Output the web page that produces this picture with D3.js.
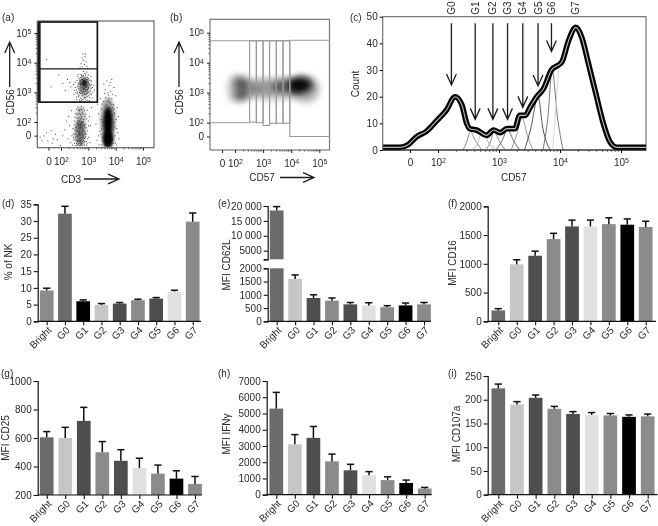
<!DOCTYPE html>
<html><head><meta charset="utf-8">
<script src="https://cdn.jsdelivr.net/npm/d3@7"></script>
<style>
html,body{margin:0;padding:0;background:#fff}
svg{display:block}
text{font-family:"Liberation Sans",Arial,sans-serif;font-size:10px;fill:#2a2a2a}
</style></head><body>
<script>
// ---------- bar data
const cats=["Bright","G0","G1","G2","G3","G4","G5","G6","G7"];
const nkShare=[9.2,32.2,6.0,4.9,5.3,6.3,6.8,8.9,29.8];
const nkShareTop=[9.9,34.4,6.4,5.3,5.6,6.6,7.1,9.3,32.4];
const cd62l=[18500,1600,880,780,640,600,530,600,640];
const cd62lTop=[19800,1750,1000,880,710,700,590,690,710];
const cd16=[190,990,1140,1430,1650,1650,1690,1680,1640];
const cd16Top=[220,1070,1220,1530,1760,1760,1800,1780,1740];
const cd25=[605,600,720,500,440,390,350,315,278];
const cd25Top=[645,675,815,575,518,458,410,370,330];
const ifng=[5300,3100,3500,2050,1500,1200,900,720,380];
const ifngTop=[6300,3700,4200,2500,1870,1420,1100,900,450];
const cd107a=[224,190,204,181,170,168,167,164,165];
const cd107aTop=[233,196,210,186,175,173,171,168,170];
const shadesD=["#8b8b8b","#6b6b6b","#000000","#c6c6c6","#4e4e4e","#8b8b8b","#4e4e4e","#e0e0e0","#8b8b8b"];
const shades=["#6b6b6b","#c6c6c6","#4e4e4e","#8b8b8b","#4e4e4e","#e0e0e0","#8b8b8b","#000000","#8b8b8b"];

// ---------- flow data, in display decades (2 = 10^2). Hand-estimated from the picture.
const decadeTicks=[1.54,2,3,4,5];
const decadeLabels=["0","2","3","4","5"];
const cloudA=[[2.84,3.28],[2.9,3.35],[2.78,3.2],[2.95,3.1],[2.7,3.4],[2.86,3.5],[2.6,3.22],[3.02,3.3],[2.8,3.05],[2.92,3.45],
[2.74,3.12],[2.88,3.18],[2.66,3.33],[2.97,3.23],[2.82,3.42],[2.76,3.55],[3.08,3.15],[2.55,3.1],[2.9,2.95],[2.7,2.98],
[2.85,2.85],[2.62,2.88],[3.0,2.9],[2.78,2.78],[2.94,2.75],[2.68,2.72],[3.1,3.4],[2.5,3.35],[2.98,3.6],[2.72,3.62],
[2.86,3.65],[3.15,3.02],[2.46,2.95],[3.12,2.82],[2.56,2.78],[2.83,2.7],[2.81,3.32],[2.87,3.24],[2.79,3.36],[2.91,3.27],
[2.84,3.14],[2.93,3.38],[2.75,3.28],[2.69,3.17],[3.0,3.18],[3.04,3.42],[2.64,3.48],[2.58,3.56],[2.77,3.46],[2.89,3.06],
[2.96,3.02],[2.73,3.05],[2.66,3.01],[2.6,2.96],[3.06,3.06],[2.83,2.96],[2.9,2.84],[2.76,2.9],[2.68,2.83],[2.95,3.52],
[3.07,3.55],[2.8,3.72],[2.92,3.7],[2.52,3.18],[3.18,3.25],[2.44,3.28],[2.85,3.38],[2.8,3.29],[2.88,3.33],[2.83,3.22],
[2.76,3.35],[2.93,3.19],[2.71,3.24],[2.99,3.36],[3.2,3.1],[2.65,2.76],[3.02,2.74],[2.86,3.1],[2.79,3.16],[2.72,3.32],
[2.84,3.4],[2.9,3.12],[2.97,3.28],[2.67,3.4],[2.62,3.3],[2.74,3.45],[3.05,3.24],[3.1,2.95],[2.58,3.02],[2.48,3.08],
[2.8,3.58],[2.88,3.6],[2.7,3.52],[2.94,2.88],[3.03,2.84],[2.72,2.8],[2.82,2.82],[2.55,2.86],[3.0,3.48],[2.82,3.25],
[2.63,3.15],[2.68,3.08],[2.77,3.0],[2.98,3.14],[3.09,3.28],[2.57,3.42],[2.93,2.98],[2.64,2.92],[2.7,3.3],[2.9,3.22],
[3.0,3.02],[2.74,2.74],[2.87,2.78],[3.13,3.18],[2.53,3.0],[2.61,3.62],[2.81,3.12],[2.96,3.44],[2.73,3.58],[3.05,2.96],
[2.75,4.18],[2.86,4.22],[2.8,4.1],[2.9,4.05],[2.72,3.98],[2.84,3.96],[2.93,3.9],[2.76,3.88],[2.88,4.3],[2.79,4.32],[2.68,3.84],[2.96,3.82]];
const cloudB=[[2.7,1.75],[2.62,1.6],[2.78,1.9],[2.55,1.85],[2.85,1.68],[2.66,2.05],[2.74,1.5],[2.6,1.35],[2.8,1.4],[2.5,1.62],
[2.9,1.95],[2.72,2.2],[2.58,2.15],[2.82,2.1],[2.64,2.3],[2.76,2.35],[2.88,2.28],[2.52,2.3],[2.68,2.45],[2.8,2.5],
[2.94,2.42],[2.46,2.05],[2.42,1.8],[2.38,1.55],[2.96,1.72],[3.0,1.5],[2.92,1.35],[2.7,1.25],[2.56,1.22],[2.84,1.25],
[2.74,1.68],[2.66,1.72],[2.71,1.58],[2.63,1.8],[2.78,1.62],[2.69,1.92],[2.6,1.95],[2.75,2.0],[2.83,1.82],[2.57,1.72],
[2.52,1.48],[2.65,1.45],[2.76,1.35],[2.88,1.52],[2.7,1.4],[2.62,1.28],[2.48,1.3],[2.78,1.22],[2.92,1.22],[2.34,1.32],
[2.3,1.9],[2.26,2.2],[2.36,2.4],[3.02,2.2],[3.06,1.9],[3.1,2.5],[2.24,1.45],[2.72,1.82],[2.67,1.66],[2.8,1.74],
[2.73,1.97],[2.59,2.05],[2.64,2.16],[2.7,2.27],[2.55,2.45],[2.86,2.2],[2.8,2.02],[2.6,1.52],[2.84,1.46],[2.47,1.92],
[2.58,1.38],[2.68,1.3],[2.74,1.44],[2.66,1.56],[2.5,1.75],[2.43,1.6],[2.96,1.45],[2.9,1.62],[2.98,2.05],[2.75,2.15],
[2.66,2.4],[2.6,2.52],[2.72,2.55],[2.84,2.42],[2.92,2.12],[2.54,1.98],[2.69,1.48],[2.77,1.55],[2.63,1.68],[2.71,1.35],
[2.82,1.32],[2.55,1.3],[2.46,1.42],[2.4,1.24],[2.86,1.88],[2.64,1.22],[2.76,1.78],[2.68,1.84],[2.61,1.4],[2.8,1.58],
[2.56,1.55],[2.73,1.3],[2.65,1.62],[2.87,1.6],[2.6,1.72],[2.7,1.62],[2.77,1.7],[2.84,1.92],[2.52,1.82],[2.62,1.9],
[2.69,2.12],[2.79,2.28],[2.57,2.28],[2.63,2.42],[2.74,2.44],[2.49,2.18],[2.91,1.82],[2.99,1.88],[2.94,1.28],[3.04,1.32],
[2.68,1.22],[2.5,1.22],[2.44,1.5],[2.53,1.4],[2.81,1.5],[2.67,1.38],[2.73,1.24],[2.86,1.36],[2.59,1.26],[2.76,1.28]];
const cloudC=[[3.72,1.85],[3.65,2.1],[3.8,1.6],[3.7,2.3],[3.78,2.05],[3.6,1.75],[3.85,1.9],[3.68,1.45],[3.75,1.3],[3.62,1.25],
[3.82,1.22],[3.74,2.5],[3.66,2.6],[3.8,2.45],[3.58,2.35],[3.88,2.25],[3.7,2.72],[3.76,2.68],[3.6,2.55],[3.92,2.0],
[3.95,1.55],[3.52,1.9],[3.5,1.5],[3.98,1.3],[3.48,1.25],[3.9,2.6],[3.54,2.7],[4.02,1.8],[3.44,2.1],[3.46,2.45],
[3.84,2.8],[3.62,2.85],[3.72,2.92],[3.8,3.05],[3.6,3.1],[3.92,3.18],[3.74,3.25],[3.66,3.4],[3.98,2.9],[4.04,2.5],
[3.4,1.7],[3.36,2.3],[3.3,1.4],[3.26,1.95],[4.08,2.2],[4.1,1.45],[3.74,1.75],[3.69,1.65],[3.77,1.95],[3.64,1.9],
[3.83,1.72],[3.71,1.55],[3.6,1.42],[3.86,1.42],[3.66,2.25],[3.79,2.2],[3.72,2.4],[3.84,2.38],[3.56,2.15],[3.62,2.45],
[3.68,2.52],[3.9,1.76],[3.94,2.32],[3.5,2.02],[3.56,1.6],[3.44,1.6],[3.36,1.55],[3.32,2.62],[4.0,2.1],[4.06,1.65],
[3.73,1.22],[3.67,1.3],[3.79,1.35],[3.88,1.3],[3.55,1.35],[3.7,1.95],[3.76,1.5],[3.63,2.0],[3.81,2.62],[3.75,2.82],
[3.7,3.0],[3.87,2.95],[3.58,2.98],[3.78,3.35],[3.55,3.3],[3.84,3.45],[3.42,2.8],[3.38,1.25],[4.02,1.24],[3.94,1.85],
[3.72,1.7],[3.7,1.4],[3.82,2.12],[3.58,1.22],[3.76,2.18],[3.66,1.58],[3.86,2.5],[3.48,2.62],[3.46,1.78],[3.92,2.45]];
const cloudSparse=[[1.28,1.4],[1.35,1.55],[1.22,1.5],[1.45,1.65],[1.5,1.38],[1.62,1.72],[1.7,1.45],[1.78,1.6],[1.66,1.3],[1.85,1.42],
[1.96,1.22],[2.05,1.55],[2.12,1.75],[2.18,2.05],[1.9,3.6],[2.05,3.32],[1.45,4.12],[1.62,3.2],[2.3,3.35],[2.15,3.08],[2.22,3.45],[2.34,3.2]];
// dense cores of the dot clouds and the density lobes of panel (b): centre x, centre y, radius x, radius y, strength
const coresA=[[2.85,3.32,.09,.11,.9],[2.84,3.2,.2,.34,.42],[3.72,2.0,.17,.5,1],[3.72,1.42,.2,.3,1],[3.72,2.05,.28,.78,.38],[2.7,1.65,.2,.42,.48],[2.72,2.15,.18,.38,.25]];
const lobesB=[[4.33,3.26,.42,.26,1],[3.85,3.2,.5,.27,.58],[3.1,3.16,.5,.3,.3],[2.25,3.3,.27,.24,.6],[2.25,2.92,.26,.2,.6],[2.02,3.14,.28,.46,.28],[2.6,3.14,.26,.32,.26],[4.5,3.12,.5,.44,.34],[3.4,3.12,1.1,.38,.16]];
// gates
const gateA=[1.2,3.33,5.37,3.79,2.67];
const gateEdges=[2.52,2.76,3.0,3.23,3.47,3.71,3.95];
const gateBottoms=[2.02,2.0,1.91,1.98,1.98,1.98];
// histogram of panel (c): decade position, count
const envelope=[[1.1,1],[1.38,1],[1.51,2],[1.65,5],[1.81,7],[1.98,11],[2.14,15],[2.28,20],[2.39,17],[2.47,10],[2.52,8],[2.63,7.5],[2.8,5.5],[2.91,7.5],[3.02,6.5],[3.13,8],[3.26,8],[3.34,13],[3.43,13],[3.51,16],[3.62,20],[3.73,23],[3.86,30],[4.03,33],[4.14,41],[4.26,46],[4.36,42],[4.46,33],[4.6,20],[4.71,10],[4.82,3],[4.93,1],[5.41,1]];
const gateCurves=[
 {c:"#8a8a8a",p:[[2.41,0],[2.47,3],[2.53,7],[2.6,4],[2.72,0]]},
 {c:"#b4b4b4",p:[[2.55,0],[2.64,2],[2.72,6.5],[2.85,2],[2.95,0]]},
 {c:"#8a8a8a",p:[[2.78,0],[2.86,3],[2.92,7],[3,3.5],[3.1,0]]},
 {c:"#666666",p:[[2.95,0],[3.04,3],[3.14,7.5],[3.25,3],[3.34,0]]},
 {c:"#999999",p:[[3.2,0],[3.28,5],[3.38,12],[3.47,5],[3.56,0]]},
 {c:"#555555",p:[[3.42,0],[3.52,8],[3.64,20],[3.72,8],[3.84,0]]},
 {c:"#777777",p:[[3.72,0],[3.8,12],[3.87,30],[3.96,12],[4.05,0]]},
 {c:"#d8d8d8",p:[[3.88,0],[3.92,12],[3.98,31]]}];
const gateNames=["G0","G1","G2","G3","G4","G5","G6","G7"];
const gatePos=[2.22,2.61,2.9,3.14,3.39,3.64,3.86,4.26];
const arrowTips=[24.4,11.5,11.5,11.5,16,24,37,null];
const countTicks=[0,10,20,30,40,50];

const svg=d3.select("body").append("svg").attr("width",658).attr("height",526);
const defs=svg.append("defs");
[["b3",1.8],["b2",3.2]].forEach(([id,s])=>defs.append("filter").attr("id",id).attr("x","-100%").attr("y","-100%").attr("width","300%").attr("height","300%").append("feGaussianBlur").attr("stdDeviation",s));
defs.append("clipPath").attr("id","frameA").append("rect").attr("x",37.3).attr("y",21).attr("width",116.7).attr("height",126.7);

function label(t,x,y,rot,anchor){
  return svg.append("text").attr("text-anchor",anchor||"middle").attr("transform",`translate(${x},${y})`+(rot?` rotate(${rot})`:"")).attr("dy","0.35em").text(t);
}
function arrow(x0,y0,x1,y1,w){
  const a=Math.atan2(y1-y0,x1-x0),L=12,H=.42;
  return svg.append("path").attr("fill","none").attr("stroke","#1c1c1c").attr("stroke-width",1.3)
   .attr("d",`M${x0},${y0}L${x1},${y1}M${x1-L*Math.cos(a-H)},${y1-L*Math.sin(a-H)}L${x1},${y1}L${x1-L*Math.cos(a+H)},${y1-L*Math.sin(a+H)}`);
}
function decadeFormat(sel){
  sel.selectAll("text").each(function(){
    const t=d3.select(this),s=t.text();
    if(s==="0")return;
    t.text("10");
    t.append("tspan").attr("dy","-0.4em").style("font-size","7px").text(s);
  });
}
const decLabel=d=>decadeLabels[decadeTicks.indexOf(d)];
function minorTicks(lo,hi){const r=[];for(let d=lo;d<hi;d++)for(let k=2;k<10;k++)r.push(d+Math.log10(k));return r.filter(v=>v<hi);}

function flowFrame(F){
  svg.append("rect").attr("x",F.l).attr("y",F.t).attr("width",F.r-F.l).attr("height",F.b-F.t).attr("fill","none").attr("stroke",F.frame).attr("stroke-width",1.2);
  const gx=svg.append("g").attr("transform",`translate(0,${F.b})`).call(d3.axisBottom(F.x).tickValues(decadeTicks).tickFormat(decLabel).tickSize(3).tickPadding(7));
  gx.select(".domain").remove(); gx.selectAll("line").attr("stroke","#222");
  decadeFormat(gx);
  const gy=svg.append("g").attr("transform",`translate(${F.l},0)`).call(d3.axisLeft(F.y).tickValues(decadeTicks).tickFormat(decLabel).tickSize(3).tickPadding(3));
  gy.select(".domain").remove(); gy.selectAll("line").attr("stroke","#222");
  decadeFormat(gy);
  svg.append("g").selectAll("line").data(minorTicks(2,5)).join("line").attr("x1",F.x).attr("x2",F.x).attr("y1",F.b).attr("y2",F.b+1.6).attr("stroke","#333").attr("stroke-width",.7);
  svg.append("g").selectAll("line").data(minorTicks(2,5)).join("line").attr("y1",F.y).attr("y2",F.y).attr("x1",F.l).attr("x2",F.l-1.6).attr("stroke","#333").attr("stroke-width",.7);
}

// ---- panel (a)
const ax=d3.scaleLinear().domain([2,5]).range([61,143]);
const ay=d3.scaleLinear().domain([2,5]).range([122,33]);
const A={l:37.3,r:154,t:21,b:147.7,x:ax,y:ay,frame:"#666"};
svg.append("g").attr("clip-path","url(#frameA)").selectAll("ellipse").data(coresA).join("ellipse")
 .attr("cx",d=>ax(d[0])).attr("cy",d=>ay(d[1]))
 .attr("rx",d=>ax(d[0]+d[2])-ax(d[0])).attr("ry",d=>ay(d[1])-ay(d[1]+d[3]))
 .attr("fill","#000").attr("opacity",d=>d[4]).attr("filter","url(#b3)");
svg.append("g").selectAll("rect").data([...cloudA,...cloudB,...cloudC,...cloudSparse]).join("rect")
 .attr("x",d=>ax(d[0])).attr("y",d=>ay(d[1])).attr("width",1).attr("height",1).attr("fill","#111").attr("opacity",.8);
flowFrame(A);
svg.append("rect").attr("x",ax(gateA[0])).attr("y",ay(gateA[2])).attr("width",ax(gateA[1])-ax(gateA[0])).attr("height",ay(gateA[4])-ay(gateA[2])).attr("fill","none").attr("stroke","#1a1a1a").attr("stroke-width",1.7);
svg.append("line").attr("x1",ax(gateA[0])).attr("x2",ax(gateA[1])).attr("y1",ay(gateA[3])).attr("y2",ay(gateA[3])).attr("stroke","#1a1a1a").attr("stroke-width",1.4);
svg.append("line").attr("x1",ax(gateA[0])).attr("x2",ax(gateA[0])).attr("y1",ay(gateA[2])).attr("y2",ay(gateA[4])).attr("stroke","#1a1a1a").attr("stroke-width",3);
label("(a)",2,17,0,"start");
label("CD56",10,102,-90);
arrow(9.7,87,9.7,42);
label("CD3",71,179);
arrow(84,179,119,179);

// ---- panel (b)
const bx=d3.scaleLinear().domain([2,5]).range([235,319.3]);
const by=d3.scaleLinear().domain([2,5]).range([122.7,32.7]);
const B={l:210,r:329.5,t:19.3,b:150,x:bx,y:by,frame:"#777"};
svg.append("g").style("isolation","isolate").selectAll("ellipse").data(lobesB).join("ellipse")
 .attr("cx",d=>bx(d[0])).attr("cy",d=>by(d[1]))
 .attr("rx",d=>bx(d[0]+d[2])-bx(d[0])).attr("ry",d=>by(d[1])-by(d[1]+d[3]))
 .attr("fill","#111").attr("opacity",d=>d[4]).attr("filter","url(#b2)").style("mix-blend-mode","multiply");
flowFrame(B);
const gateTopB=4.73, leftBase=2.0;
const gb=svg.append("g").attr("fill","none").attr("stroke","#9a9a9a").attr("stroke-width",1.1);
gb.append("path").attr("d",`M${B.l},${by(gateTopB)}H${bx(gateEdges[6])}M${B.l},${by(leftBase)}H${bx(gateEdges[0])}`);
gateEdges.slice(0,-1).forEach((e,i)=>{
  gb.append("rect").attr("x",bx(e)).attr("y",by(gateTopB)).attr("width",bx(gateEdges[i+1])-bx(e)).attr("height",by(gateBottoms[i])-by(gateTopB));
});
gb.append("path").attr("d",`M${bx(gateEdges[6])},${by(gateTopB+.02)}H${B.r}M${bx(gateEdges[6])},${by(gateTopB+.02)}V${by(1.54)}H${B.r}`);
label("(b)",170,17,0,"start");
label("CD56",179,102,-90);
arrow(179,87,179,42);
label("CD57",262,177.5);
arrow(280,177.5,314,177.5);

// ---- panel (c)
const cx=d3.scaleLinear().domain([2,5]).range([438,621]);
const cy=d3.scaleLinear().domain([0,50]).range([150,16.7]);
svg.append("rect").attr("x",382.7).attr("y",16.7).attr("width",263.3).attr("height",133.3).attr("fill","none").attr("stroke","#666").attr("stroke-width",1.1);
const area=d3.line().x(d=>cx(d[0])).y(d=>cy(d[1])).curve(d3.curveMonotoneX);
svg.append("g").attr("fill","none").attr("stroke-width",1).selectAll("path").data(gateCurves).join("path").attr("stroke",d=>d.c).attr("d",d=>area(d.p));
svg.append("path").attr("fill","none").attr("stroke","#000").attr("stroke-width",5.6).attr("stroke-linejoin","round").attr("d",area(envelope));
svg.append("path").attr("fill","none").attr("stroke","#bdbdbd").attr("stroke-width",1.1).attr("d",area(envelope));
svg.append("path").attr("stroke","#2a2a2a").attr("stroke-width",1).attr("d",`M382.7,${cy(0)}H646`);
const cgx=svg.append("g").attr("transform",`translate(0,150)`).call(d3.axisBottom(cx).tickValues(decadeTicks).tickFormat(decLabel).tickSize(3).tickPadding(6));
cgx.select(".domain").remove(); decadeFormat(cgx);
const cgy=svg.append("g").attr("transform","translate(382.7,0)").call(d3.axisLeft(cy).tickValues(countTicks).tickSize(3).tickPadding(2));
cgy.select(".domain").remove();
svg.append("g").selectAll("line").data(minorTicks(2,5)).join("line").attr("x1",cx).attr("x2",cx).attr("y1",150).attr("y2",152).attr("stroke","#333").attr("stroke-width",.7);
gateNames.forEach((n,i)=>{
  label(n,cx(gatePos[i]),8,-90);
  if(arrowTips[i]!==null) arrow(cx(gatePos[i]),cy(47.5),cx(gatePos[i]),cy(arrowTips[i]));
});
label("(c)",350,17.7,0,"start");
label("Count",355,84,-90);
label("CD57",513.7,177.7);

// ---- bar panels
function barPanel(cfg){
  const x=d3.scalePoint().domain(cats).range(cfg.xr);
  const bw=13.7;
  const y=d3.scaleLinear().domain(cfg.dom).range(cfg.yr);
  const g=svg.append("g");
  g.selectAll("rect").data(cats).join("rect")
   .attr("x",d=>x(d)-bw/2).attr("width",bw)
   .attr("y",(d,i)=>y(cfg.v[i])).attr("height",(d,i)=>cfg.yr[0]-y(cfg.v[i]))
   .attr("fill",(d,i)=>cfg.c[i]);
  errs(g,x,y,cfg.v,cfg.e,cats.map((d,i)=>i));
  const gy=svg.append("g").attr("transform",`translate(${cfg.ax},0)`).call(d3.axisLeft(y).tickValues(cfg.t).tickSize(4).tickPadding(2).tickFormat(cfg.f||d3.format("d")));
  styleAxis(gy);
  xAxis(x,cfg);
}
function errs(g,x,y,v,e,idx){
  const k=g.append("g").attr("stroke","#111").attr("stroke-width",1.5);
  idx.forEach(i=>{
    const c=x(cats[i]);
    k.append("line").attr("x1",c).attr("x2",c).attr("y1",y(v[i])).attr("y2",y(e[i]));
    k.append("line").attr("x1",c-3.6).attr("x2",c+3.6).attr("y1",y(e[i])).attr("y2",y(e[i]));
  });
}
function styleAxis(a){a.selectAll(".domain").attr("stroke","#111").attr("stroke-width",1.2);a.selectAll("line").attr("stroke","#111").attr("stroke-width",1.1);}
function xAxis(x,cfg){
  const y0=cfg.yr[0];
  const gx=svg.append("g").attr("transform",`translate(0,${y0})`).call(d3.axisBottom(x).tickSize(4).tickSizeOuter(0).tickPadding(3));
  gx.select(".domain").remove();
  gx.selectAll("line").attr("stroke","#111").attr("stroke-width",1.1);
  gx.selectAll("text").attr("x",0).attr("y",0).attr("dy","0.35em").attr("text-anchor","end").attr("transform","translate(2.5,7) rotate(-45)");
  svg.append("line").attr("x1",cfg.ax).attr("x2",cfg.xe).attr("y1",y0).attr("y2",y0).attr("stroke","#111").attr("stroke-width",1.2);
}

barPanel({xr:[46.7,192.7],yr:[321.3,204.3],dom:[0,35],ax:37.7,xe:201,v:nkShare,e:nkShareTop,c:shadesD,t:d3.range(0,36,5)});
label("(d)",2,203,0,"start"); label("% of NK",8,262,-90);

// panel (e): broken axis
(function(){
  const cfg={xr:[276.7,424],yr:[321.3,268.3],ax:267.7,xe:431};
  const x=d3.scalePoint().domain(cats).range(cfg.xr);
  const low=d3.scaleLinear().domain([0,2000]).range([321.3,268.3]);
  const high=d3.scaleLinear().domain([2100,20000]).range([259.3,206]);
  const bw=13.7;
  const g=svg.append("g");
  g.selectAll("rect.l").data(cats).join("rect").attr("class","l")
   .attr("x",d=>x(d)-bw/2).attr("width",bw)
   .attr("y",(d,i)=>low(Math.min(cd62l[i],2000))).attr("height",(d,i)=>321.3-low(Math.min(cd62l[i],2000)))
   .attr("fill",(d,i)=>shades[i]);
  g.append("rect").attr("x",x("Bright")-bw/2).attr("width",bw).attr("y",high(cd62l[0])).attr("height",high(2100)-high(cd62l[0])).attr("fill",shades[0]);
  errs(g,x,high,cd62l,cd62lTop,[0]);
  errs(g,x,low,cd62l,cd62lTop,[1,2,3,4,5,6,7,8]);
  const fHigh=d=>d>=10000?d3.format(",")(d).replace(","," "):(d===2100?"":String(d));
  styleAxis(svg.append("g").attr("transform",`translate(${cfg.ax},0)`).call(d3.axisLeft(high).tickValues([2100,5000,10000,15000,20000]).tickSize(4).tickPadding(2).tickFormat(fHigh)));
  styleAxis(svg.append("g").attr("transform",`translate(${cfg.ax},0)`).call(d3.axisLeft(low).tickValues([0,500,1000,1500,2000]).tickSize(4).tickPadding(2).tickFormat(d3.format("d"))));
  xAxis(x,cfg);
})();
label("(e)",218,203,0,"start"); label("MFI CD62L",226,265,-90);

barPanel({xr:[498.3,645.7],yr:[321.3,206.3],dom:[0,2000],ax:487.7,xe:656,v:cd16,e:cd16Top,c:shades,t:[0,500,1000,1500,2000]});
label("(f)",448,203,0,"start"); label("MFI CD16",452.7,263,-90);

barPanel({xr:[46.7,195],yr:[495,381],dom:[200,1000],ax:37.7,xe:202,v:cd25,e:cd25Top,c:shades,t:[200,400,600,800,1000]});
label("(g)",1,373,0,"start"); label("MFI CD25",5,438,-90);

barPanel({xr:[276.3,424.7],yr:[494.7,381],dom:[0,7000],ax:266.7,xe:431.7,v:ifng,e:ifngTop,c:shades,t:d3.range(0,7001,1000)});
label("(h)",218,373,0,"start"); label("MFI IFNγ",226,434,-90);

barPanel({xr:[498.3,647.7],yr:[494.7,376],dom:[0,250],ax:487.7,xe:657.5,v:cd107a,e:cd107aTop,c:shades,t:[0,50,100,150,200,250]});
label("(i)",448,373,0,"start"); label("MFI CD107a",456,434,-90);
</script>
</body></html>
